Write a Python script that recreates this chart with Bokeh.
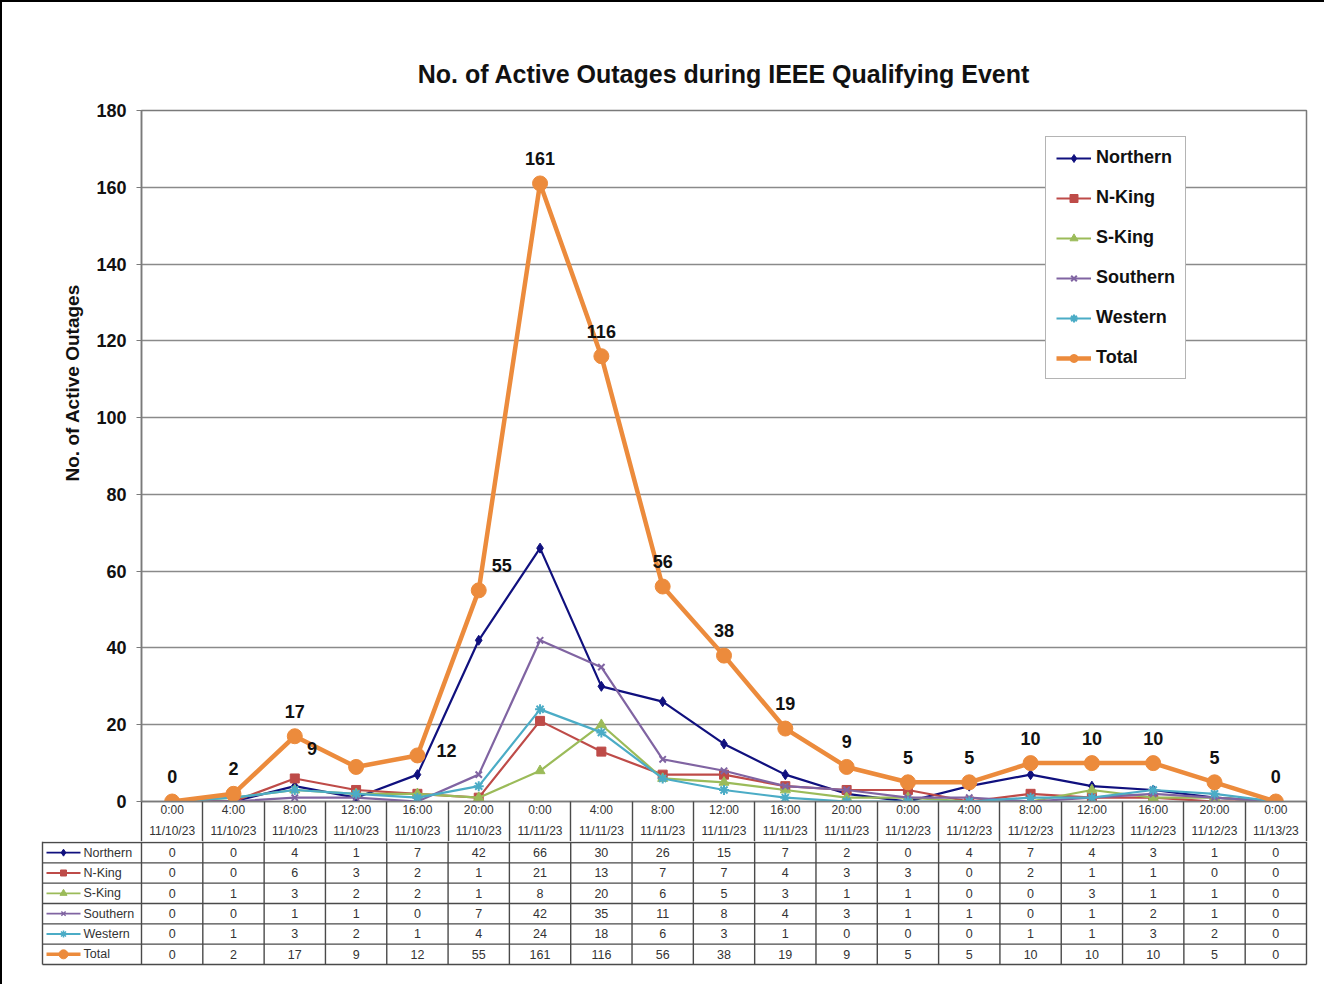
from bokeh.plotting import figure
from bokeh.models import Range1d, FixedTicker, Legend, LegendItem, ColumnDataSource, Title
from bokeh.layouts import column
from bokeh.embed import file_html
from bokeh.resources import INLINE
from bokeh.core.properties import value

# ---------------- data ----------------
times = ["0:00", "4:00", "8:00", "12:00", "16:00", "20:00",
         "0:00", "4:00", "8:00", "12:00", "16:00", "20:00",
         "0:00", "4:00", "8:00", "12:00", "16:00", "20:00", "0:00"]
dates = ["11/10/23", "11/10/23", "11/10/23", "11/10/23", "11/10/23", "11/10/23",
         "11/11/23", "11/11/23", "11/11/23", "11/11/23", "11/11/23", "11/11/23",
         "11/12/23", "11/12/23", "11/12/23", "11/12/23", "11/12/23", "11/12/23", "11/13/23"]

series_names = ["Northern", "N-King", "S-King", "Southern", "Western", "Total"]
northern = [0, 0, 4, 1, 7, 42, 66, 30, 26, 15, 7, 2, 0, 4, 7, 4, 3, 1, 0]
n_king   = [0, 0, 6, 3, 2, 1, 21, 13, 7, 7, 4, 3, 3, 0, 2, 1, 1, 0, 0]
s_king   = [0, 1, 3, 2, 2, 1, 8, 20, 6, 5, 3, 1, 1, 0, 0, 3, 1, 1, 0]
southern = [0, 0, 1, 1, 0, 7, 42, 35, 11, 8, 4, 3, 1, 1, 0, 1, 2, 1, 0]
western  = [0, 1, 3, 2, 1, 4, 24, 18, 6, 3, 1, 0, 0, 0, 1, 1, 3, 2, 0]
total    = [0, 2, 17, 9, 12, 55, 161, 116, 56, 38, 19, 9, 5, 5, 10, 10, 10, 5, 0]
y_ticks = [0, 20, 40, 60, 80, 100, 120, 140, 160, 180]

title_text = "No. of Active Outages during IEEE Qualifying Event"
y_label = "No. of Active Outages"

# ---------------- styles ----------------
FONT = "Liberation Sans"
colors = ["#10107E", "#BE4B48", "#9BBB59", "#8064A2", "#4BACC6", "#EC8B3C"]
markers = ["diamond", "square", "triangle", "x", "asterisk", "circle"]
msizes = [10, 9, 10, 9, 10, 15]
lwidths = [2.2, 2.2, 2.2, 2.2, 2.2, 4.5]
table_msizes = [7, 6, 7, 6, 7, 9]
table_lwidths = [1.8, 1.8, 1.8, 1.8, 1.8, 3.5]
GRID = "#8a8a8a"
TABLE_LINE = "#4a4a4a"
TEXT = "#111111"

# pixel nudges for Total labels that sit beside their point
LABEL_NUDGE = {3: (-44, -18), 4: (29, -5), 5: (23, -25)}
DEFAULT_NUDGE = (0, -25)

W = 1322
A_LEFT, A_RIGHT, A_TOP, A_BOTTOM = 139, 18, 108, 40
A_FRAME_H = 691
n = len(times)
xs = list(range(n))
ppu = (W - A_LEFT - A_RIGHT) / n  # pixels per category

# ---------------- main chart ----------------
A = figure(width=W, height=A_TOP + A_FRAME_H + A_BOTTOM,
           x_range=Range1d(-0.5, n - 0.5), y_range=Range1d(0, 180),
           output_backend="svg", toolbar_location=None,
           min_border_left=A_LEFT, min_border_right=A_RIGHT,
           min_border_top=A_TOP, min_border_bottom=A_BOTTOM)
A.frame_align = False
A.title.text = title_text
A.title.align = "center"
A.title.text_font = FONT
A.title.text_font_size = "25px"
A.title.text_font_style = "bold"
A.title.text_color = TEXT
A.title.standoff = 46

# y-axis title, set a little above the middle as in the original
A.add_layout(Title(text=y_label, align="left", offset=320, standoff=21,
                   text_font=FONT, text_font_size="19px", text_font_style="bold",
                   text_color=TEXT), "left")

# x axis: category header (time / date); separators drawn as minor ticks
A.xaxis.ticker = FixedTicker(ticks=xs, minor_ticks=[k - 0.5 for k in range(n + 1)])
A.xaxis.major_label_overrides = {k: f"{t}\n{d}" for k, (t, d) in enumerate(zip(times, dates))}
A.xaxis.major_label_text_font = FONT
A.xaxis.major_label_text_font_size = "12px"
A.xaxis.major_label_text_color = "#333333"
A.xaxis.major_label_text_line_height = 1.55
A.xaxis.major_tick_out = 0
A.xaxis.major_tick_in = 0
A.xaxis.minor_tick_out = 40
A.xaxis.minor_tick_in = 0
A.xaxis.major_label_standoff = -39
A.xaxis.minor_tick_line_color = TABLE_LINE
A.xaxis.minor_tick_line_width = 1.4
A.xaxis.axis_line_color = "#7a7a7a"
A.xaxis.axis_line_width = 1.5
A.xgrid.visible = False

A.yaxis.ticker = FixedTicker(ticks=y_ticks)
A.ygrid.ticker = FixedTicker(ticks=y_ticks)
A.ygrid.grid_line_color = GRID
A.ygrid.grid_line_width = 1.4
A.yaxis.major_label_text_font = FONT
A.yaxis.major_label_text_font_size = "18px"
A.yaxis.major_label_text_font_style = "bold"
A.yaxis.major_label_text_color = TEXT
A.yaxis.major_label_standoff = 10
A.yaxis.axis_line_color = "#7a7a7a"
A.yaxis.axis_line_width = 1.5
A.yaxis.major_tick_line_color = "#7a7a7a"
A.yaxis.major_tick_in = 0
A.yaxis.major_tick_out = 5
A.yaxis.minor_tick_line_color = None
A.outline_line_color = "#7a7a7a"
A.outline_line_width = 1.5

all_vals = [northern, n_king, s_king, southern, western, total]
items = []
for name, vals, col, mk, ms, lw in zip(series_names, all_vals, colors, markers, msizes, lwidths):
    src = ColumnDataSource(dict(x=xs, y=vals))
    l = A.line("x", "y", source=src, line_color=col, line_width=lw)
    s = A.scatter("x", "y", source=src, marker=mk, size=ms,
                  fill_color=col, line_color=col, line_width=2 if mk in ("x", "asterisk") else 1)
    items.append(LegendItem(label=name, renderers=[l, s]))

legend = Legend(items=items, location=(904, 422))
legend.label_text_font = FONT
legend.label_text_font_size = "18px"
legend.label_text_font_style = "bold"
legend.label_text_color = TEXT
legend.label_height = 20
legend.glyph_height = 20
legend.glyph_width = 35
legend.label_standoff = 5
legend.spacing = 19
legend.padding = 10
legend.margin = 0
legend.border_line_color = "#6a6a6a"
legend.border_line_width = 1.5
legend.background_fill_color = "white"
legend.background_fill_alpha = 1.0
A.add_layout(legend)

dx = [LABEL_NUDGE.get(i, DEFAULT_NUDGE)[0] for i in xs]
dy = [LABEL_NUDGE.get(i, DEFAULT_NUDGE)[1] for i in xs]
lab_src = ColumnDataSource(dict(x=xs, y=total, t=[str(v) for v in total], dx=dx, dy=dy))
A.text("x", "y", text="t", source=lab_src, x_offset="dx", y_offset="dy",
       text_align="center", text_baseline="middle",
       text_font=value(FONT), text_font_size="18px", text_font_style="bold",
       text_color=TEXT)

# ---------------- data table ----------------
PAD = 3
LEG_COL = 99  # px width of the legend column of the table
ROW_PX = 20.33
n_rows = len(series_names)
xL = -0.5 - LEG_COL / ppu
B = figure(width=W, height=int(round(n_rows * ROW_PX + 1 + 20)),
           x_range=Range1d(xL - PAD / ppu, n - 0.5 + PAD / ppu),
           y_range=Range1d(n_rows + 20 / ROW_PX, -1 / ROW_PX),
           output_backend="svg", toolbar_location=None,
           min_border_left=A_LEFT - LEG_COL - PAD, min_border_right=A_RIGHT - PAD,
           min_border_top=0, min_border_bottom=0)
B.frame_align = False
B.axis.visible = False
B.grid.visible = False
B.outline_line_color = None

hy = list(range(0, n_rows + 1))
B.segment(x0=[xL] * len(hy), y0=hy, x1=[n - 0.5] * len(hy), y1=hy,
          line_color=TABLE_LINE, line_width=1.4)
vx = [xL] + [k - 0.5 for k in range(n + 1)]
B.segment(x0=vx, y0=[-1 / ROW_PX] * len(vx), x1=vx, y1=[n_rows] * len(vx),
          line_color=TABLE_LINE, line_width=1.4)

tkw = dict(text_align="center", text_baseline="middle", text_font=value(FONT),
           text_font_size="12.5px", text_color="#333333")
for i, vals in enumerate(all_vals):
    B.text(x=xs, y=[0.5 + i] * n, text=[str(v) for v in vals], **tkw)

# legend keys in the table
for i, (name, col, mk, ms, lw) in enumerate(zip(series_names, colors, markers, table_msizes, table_lwidths)):
    yy = 0.5 + i
    x0 = xL + 4 / ppu
    x1 = xL + 38 / ppu
    B.line(x=[x0, x1], y=[yy, yy], line_color=col, line_width=lw)
    B.scatter(x=[(x0 + x1) / 2], y=[yy], marker=mk, size=ms, fill_color=col, line_color=col,
              line_width=1.5 if mk in ("x", "asterisk") else 1)
    B.text(x=[xL + 41 / ppu], y=[yy], text=[name], text_align="left", text_baseline="middle",
           text_font=value(FONT), text_font_size="12.5px", text_color="#333333")

layout = column(A, B, spacing=0,
                styles={"border-top": "2px solid #000", "border-left": "2px solid #000"})

open("out.html", "w").write(file_html(layout, INLINE))
